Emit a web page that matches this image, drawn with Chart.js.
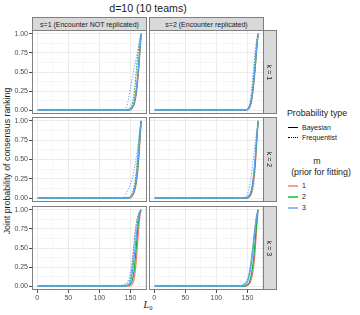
<!DOCTYPE html>
<html>
<head>
<meta charset="utf-8">
<script src="https://cdn.jsdelivr.net/npm/chart.js@4.4.1/dist/chart.umd.min.js"></script>
<style>
  body { margin: 0; background: #fff; font-family: "Liberation Sans", Arial, sans-serif; }
  #wrap { position: relative; width: 360px; height: 315px; overflow: hidden; }
  canvas { position: absolute; }
  .txt { position: absolute; white-space: nowrap; color: #1a1a1a; }
  .strip { position: absolute; background: #d9d9d9; border: 1px solid #7f7f7f; box-sizing: border-box;
           font-size: 7px; color: #1a1a1a; display: flex; align-items: center; justify-content: center; white-space: nowrap; }
  .strip.side span { transform: rotate(90deg); display: inline-block; }
  .key { position: absolute; width: 10px; }
</style>
</head>
<body>
<div id="wrap">
  <div class="txt" style="left:148px;top:8px;font-size:10.6px;transform:translate(-50%,-50%)">d=10 (10 teams)</div>
  <div class="txt" style="left:7px;top:161px;font-size:8.8px;transform:translate(-50%,-50%) rotate(-90deg)">Joint probability of consensus ranking</div>
  <div class="txt" style="left:148px;top:304px;font-size:10px;font-family:'Liberation Serif',serif;transform:translate(-50%,-50%)"><i>L</i><span style="font-size:6.5px;position:relative;top:2px">0</span></div>

  <!-- legend -->
  <div class="txt" style="left:287px;top:113px;font-size:8.8px;transform:translateY(-50%)">Probability type</div>
  <div class="key" style="left:288px;top:127px;border-top:1px solid #000"></div>
  <div class="txt" style="left:302px;top:127px;font-size:7px;transform:translateY(-50%)">Bayesian</div>
  <div class="key" style="left:288px;top:137px;border-top:1px dotted #000"></div>
  <div class="txt" style="left:302px;top:137px;font-size:7px;transform:translateY(-50%)">Frequentist</div>
  <div class="txt" style="left:317px;top:161px;font-size:8.8px;transform:translate(-50%,-50%)">m</div>
  <div class="txt" style="left:321px;top:172px;font-size:8.8px;transform:translate(-50%,-50%)">(prior for fitting)</div>
  <div class="key" style="left:288px;top:185px;height:1.5px;background:rgba(248,118,109,0.7)"></div>
  <div class="txt" style="left:302px;top:185px;font-size:7px;transform:translateY(-50%)">1</div>
  <div class="key" style="left:288px;top:196px;height:1.5px;background:rgba(0,186,56,0.7)"></div>
  <div class="txt" style="left:302px;top:196px;font-size:7px;transform:translateY(-50%)">2</div>
  <div class="key" style="left:288px;top:207px;height:1.5px;background:rgba(97,156,255,0.7)"></div>
  <div class="txt" style="left:302px;top:207px;font-size:7px;transform:translateY(-50%)">3</div>
</div>
<script>
// ---- data ----
const L0 = [1, 130, 135, 140, 145, 150, 153, 156, 159, 162, 165, 167];

const colLabels = ['s=1 (Encounter NOT replicated)', 's=2 (Encounter replicated)'];
const rowLabels = ['k = 1', 'k = 2', 'k = 3'];
const mLevels = ['1', '2', '3'];

const xMajor = [0, 50, 100, 150];
const xMinor = [25, 75, 125, 175];
const yMajor = [0, 0.25, 0.5, 0.75, 1];
const yMinor = [0.125, 0.375, 0.625, 0.875];

// s=1, k=1
const s1k1_bayes_m1 = [0, 0, 0, 0, 0, 0.01, 0.03, 0.08, 0.20, 0.42, 0.75, 1];
const s1k1_bayes_m2 = [0, 0, 0, 0, 0, 0.01, 0.04, 0.10, 0.24, 0.47, 0.80, 1];
const s1k1_bayes_m3 = [0, 0, 0, 0, 0, 0.01, 0.04, 0.11, 0.26, 0.50, 0.82, 1];
const s1k1_freq_m1  = [0, 0, 0, 0, 0, 0.03, 0.08, 0.20, 0.45, 0.72, 0.93, 1];
const s1k1_freq_m2  = [0, 0, 0, 0, 0.01, 0.04, 0.10, 0.24, 0.50, 0.77, 0.95, 1];
const s1k1_freq_m3  = [0, 0, 0, 0, 0.08, 0.30, 0.43, 0.56, 0.68, 0.80, 0.93, 1];
// s=1, k=2
const s1k2_bayes_m1 = [0, 0, 0, 0, 0, 0.01, 0.03, 0.08, 0.18, 0.38, 0.72, 1];
const s1k2_bayes_m2 = [0, 0, 0, 0, 0, 0.01, 0.04, 0.10, 0.22, 0.45, 0.78, 1];
const s1k2_bayes_m3 = [0, 0, 0, 0, 0, 0.01, 0.04, 0.11, 0.24, 0.48, 0.80, 1];
const s1k2_freq_m1  = [0, 0, 0, 0, 0, 0.02, 0.06, 0.15, 0.32, 0.58, 0.88, 1];
const s1k2_freq_m2  = [0, 0, 0, 0, 0.01, 0.03, 0.07, 0.16, 0.34, 0.60, 0.90, 1];
const s1k2_freq_m3  = [0, 0, 0, 0.02, 0.10, 0.18, 0.26, 0.38, 0.52, 0.70, 0.88, 1];
// s=1, k=3
const s1k3_bayes_m1 = [0, 0, 0, 0, 0, 0.01, 0.03, 0.10, 0.30, 0.62, 0.90, 1];
const s1k3_bayes_m2 = [0, 0, 0, 0, 0.01, 0.03, 0.08, 0.22, 0.48, 0.78, 0.96, 1];
const s1k3_bayes_m3 = [0, 0, 0, 0, 0.01, 0.06, 0.18, 0.38, 0.62, 0.85, 0.97, 1];
const s1k3_freq_m1  = [0, 0, 0, 0, 0.01, 0.10, 0.30, 0.60, 0.82, 0.93, 0.98, 1];
const s1k3_freq_m2  = [0, 0, 0.01, 0.02, 0.04, 0.12, 0.30, 0.55, 0.78, 0.92, 0.98, 1];
const s1k3_freq_m3  = [0, 0, 0, 0.01, 0.05, 0.18, 0.35, 0.55, 0.72, 0.87, 0.97, 1];
// s=2, k=1
const s2k1_bayes_m1 = [0, 0, 0, 0, 0, 0.01, 0.03, 0.10, 0.27, 0.52, 0.83, 1];
const s2k1_bayes_m2 = [0, 0, 0, 0, 0, 0.01, 0.04, 0.12, 0.30, 0.55, 0.85, 1];
const s2k1_bayes_m3 = [0, 0, 0, 0, 0, 0.01, 0.04, 0.13, 0.31, 0.57, 0.86, 1];
const s2k1_freq_m1  = [0, 0, 0, 0, 0, 0.02, 0.07, 0.20, 0.45, 0.72, 0.93, 1];
const s2k1_freq_m2  = [0, 0, 0, 0, 0, 0.02, 0.06, 0.18, 0.42, 0.70, 0.92, 1];
const s2k1_freq_m3  = [0, 0, 0, 0, 0, 0.02, 0.07, 0.21, 0.46, 0.74, 0.94, 1];
// s=2, k=2
const s2k2_bayes_m1 = [0, 0, 0, 0, 0, 0, 0.02, 0.06, 0.18, 0.40, 0.76, 1];
const s2k2_bayes_m2 = [0, 0, 0, 0, 0, 0.01, 0.03, 0.08, 0.22, 0.45, 0.80, 1];
const s2k2_bayes_m3 = [0, 0, 0, 0, 0, 0.01, 0.04, 0.10, 0.25, 0.50, 0.82, 1];
const s2k2_freq_m1  = [0, 0, 0, 0, 0, 0, 0.01, 0.04, 0.12, 0.35, 0.72, 1];
const s2k2_freq_m2  = [0, 0, 0, 0, 0, 0.02, 0.05, 0.10, 0.22, 0.45, 0.80, 1];
const s2k2_freq_m3  = [0, 0, 0, 0, 0.01, 0.06, 0.15, 0.30, 0.50, 0.70, 0.90, 1];
// s=2, k=3
const s2k3_bayes_m1 = [0, 0, 0, 0, 0, 0.01, 0.03, 0.08, 0.20, 0.42, 0.78, 1];
const s2k3_bayes_m2 = [0, 0, 0, 0, 0, 0.02, 0.05, 0.14, 0.30, 0.55, 0.85, 1];
const s2k3_bayes_m3 = [0, 0, 0, 0, 0.02, 0.06, 0.14, 0.28, 0.48, 0.72, 0.92, 1];
const s2k3_freq_m1  = [0, 0, 0, 0, 0.01, 0.05, 0.15, 0.33, 0.55, 0.78, 0.95, 1];
const s2k3_freq_m2  = [0, 0, 0, 0.01, 0.03, 0.08, 0.18, 0.35, 0.55, 0.77, 0.93, 1];
const s2k3_freq_m3  = [0, 0, 0, 0.01, 0.04, 0.10, 0.20, 0.35, 0.53, 0.75, 0.93, 1];

const panelSeries = [
  [ // s=1
    [[s1k1_bayes_m1, s1k1_bayes_m2, s1k1_bayes_m3], [s1k1_freq_m1, s1k1_freq_m2, s1k1_freq_m3]],
    [[s1k2_bayes_m1, s1k2_bayes_m2, s1k2_bayes_m3], [s1k2_freq_m1, s1k2_freq_m2, s1k2_freq_m3]],
    [[s1k3_bayes_m1, s1k3_bayes_m2, s1k3_bayes_m3], [s1k3_freq_m1, s1k3_freq_m2, s1k3_freq_m3]]
  ],
  [ // s=2
    [[s2k1_bayes_m1, s2k1_bayes_m2, s2k1_bayes_m3], [s2k1_freq_m1, s2k1_freq_m2, s2k1_freq_m3]],
    [[s2k2_bayes_m1, s2k2_bayes_m2, s2k2_bayes_m3], [s2k2_freq_m1, s2k2_freq_m2, s2k2_freq_m3]],
    [[s2k3_bayes_m1, s2k3_bayes_m2, s2k3_bayes_m3], [s2k3_freq_m1, s2k3_freq_m2, s2k3_freq_m3]]
  ]
];

// ---- layout / style ----
const mColors = ['#F8766D', '#00BA38', '#619CFF'];
const cols = [{ left: 32, w: 115 }, { left: 149, w: 115 }];
const rows = [{ top: 30, h: 84 }, { top: 117, h: 85 }, { top: 206, h: 84 }];
const Y_AXIS_W = 32, X_AXIS_H = 14, PAD = 6;

const wrap = document.getElementById('wrap');

// panel border like theme_bw
const panelBorder = {
  id: 'panelBorder',
  afterDraw(chart) {
    const { ctx, chartArea: a } = chart;
    ctx.save();
    ctx.strokeStyle = '#7f7f7f';
    ctx.lineWidth = 1;
    ctx.strokeRect(a.left + 0.5, a.top + 0.5, a.width - 1, a.height - 1);
    ctx.restore();
  }
};

function gridColor(majors) {
  return c => (c.tick && majors.includes(c.tick.value)) ? '#ebebeb' : '#f5f5f5';
}

function makePanel(c, r) {
  const isLeft = c === 0, isBottom = r === rows.length - 1;
  const col = cols[c], row = rows[r];
  const cv = document.createElement('canvas');
  const w = col.w + (isLeft ? Y_AXIS_W : 0);
  const h = row.h + PAD + (isBottom ? X_AXIS_H : PAD);
  cv.width = w; cv.height = h;
  cv.style.left = (col.left - (isLeft ? Y_AXIS_W : 0)) + 'px';
  cv.style.top = (row.top - PAD) + 'px';
  wrap.appendChild(cv);

  const [bayes, freq] = panelSeries[c][r];
  const datasets = [];
  // lower `order` is painted on top: bayesian solid above dotted, blue topmost
  mLevels.forEach((m, i) => {
    datasets.push({
      label: 'Frequentist m=' + m,
      data: L0.map((x, j) => ({ x, y: freq[i][j] })),
      borderColor: mColors[i], borderWidth: 1, borderDash: [1.2, 1.6],
      order: 10 - i
    });
    datasets.push({
      label: 'Bayesian m=' + m,
      data: L0.map((x, j) => ({ x, y: bayes[i][j] })),
      borderColor: mColors[i], borderWidth: 1.2,
      order: 3 - i
    });
  });

  new Chart(cv, {
    type: 'line',
    data: { datasets },
    options: {
      responsive: false,
      animation: false,
      devicePixelRatio: 1,
      layout: { padding: { top: PAD, bottom: isBottom ? 0 : PAD, left: 0, right: 0 } },
      elements: { point: { radius: 0 }, line: { cubicInterpolationMode: 'monotone' } },
      plugins: { legend: { display: false }, tooltip: { enabled: false } },
      scales: {
        x: {
          type: 'linear', min: -8.4, max: 176.4,
          afterBuildTicks: s => { s.ticks = xMajor.concat(xMinor).sort((a, b) => a - b).map(v => ({ value: v })); },
          afterFit: s => { s.height = isBottom ? X_AXIS_H : 0; },
          border: { display: false },
          grid: {
            color: gridColor(xMajor), lineWidth: 1,
            drawTicks: isBottom, tickLength: 3,
            tickColor: c => (c.tick && xMajor.includes(c.tick.value)) ? '#4d4d4d' : 'rgba(0,0,0,0)'
          },
          ticks: {
            display: isBottom, autoSkip: false, maxRotation: 0, padding: 1,
            color: '#4d4d4d', font: { family: 'Liberation Sans', size: 7 },
            callback: v => xMajor.includes(v) ? String(v) : ''
          }
        },
        y: {
          type: 'linear', min: -0.05, max: 1.05,
          afterBuildTicks: s => { s.ticks = yMajor.concat(yMinor).sort((a, b) => a - b).map(v => ({ value: v })); },
          afterFit: s => { s.width = isLeft ? Y_AXIS_W : 0; },
          border: { display: false },
          grid: {
            color: gridColor(yMajor), lineWidth: 1,
            drawTicks: isLeft, tickLength: 3,
            tickColor: c => (c.tick && yMajor.includes(c.tick.value)) ? '#4d4d4d' : 'rgba(0,0,0,0)'
          },
          ticks: {
            display: isLeft, autoSkip: false, padding: 1,
            color: '#4d4d4d', font: { family: 'Liberation Sans', size: 7 },
            callback: v => yMajor.includes(v) ? v.toFixed(2) : ''
          }
        }
      }
    },
    plugins: [panelBorder]
  });
}

cols.forEach((col, c) => rows.forEach((row, r) => makePanel(c, r)));

// facet strips
cols.forEach((col, c) => {
  const d = document.createElement('div');
  d.className = 'strip';
  d.style.cssText = `left:${col.left}px;top:17px;width:${col.w}px;height:14px;`;
  d.textContent = colLabels[c];
  wrap.appendChild(d);
});
rows.forEach((row, r) => {
  const d = document.createElement('div');
  d.className = 'strip side';
  d.style.cssText = `left:263px;top:${row.top}px;width:14px;height:${row.h}px;`;
  const sp = document.createElement('span');
  sp.textContent = rowLabels[r];
  d.appendChild(sp);
  wrap.appendChild(d);
});
</script>
</body>
</html>
